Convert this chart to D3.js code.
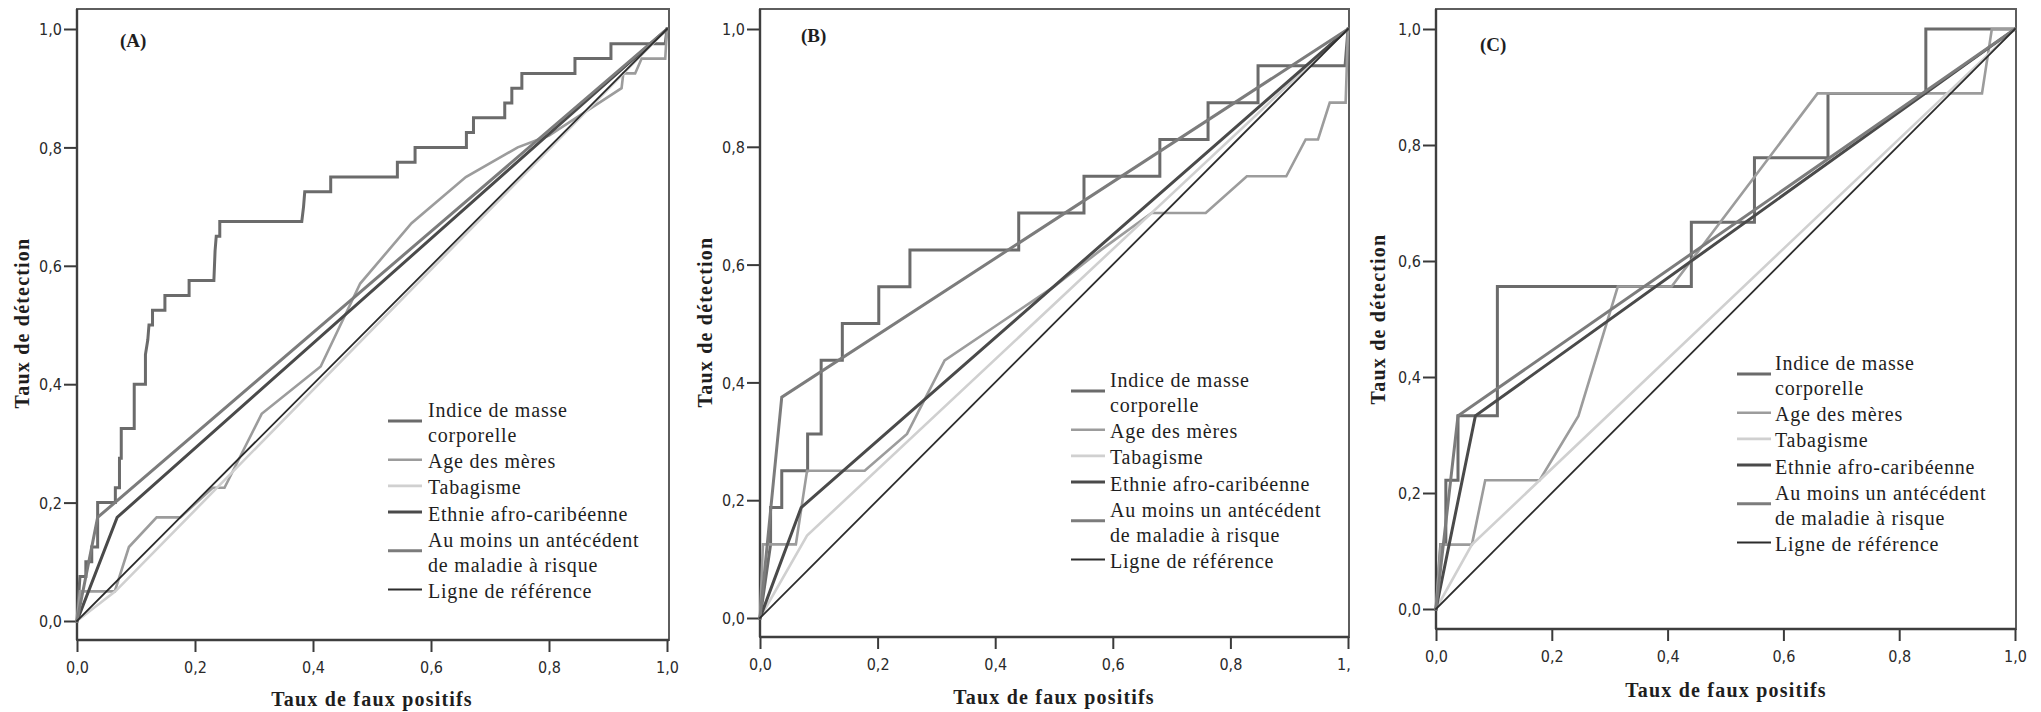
<!DOCTYPE html>
<html><head><meta charset="utf-8">
<script src="https://cdn.jsdelivr.net/npm/d3@7"></script>
<style>
html,body{margin:0;padding:0;background:#fff;}
svg{display:block;}
.tick text{font-family:"DejaVu Sans Condensed","DejaVu Sans",sans-serif;font-stretch:condensed;font-size:16px;fill:#2a2a2a;}
.leg{font-family:"Liberation Serif","Times New Roman",serif;font-size:20px;letter-spacing:0.8px;fill:#1e1e1e;}
.ttl{font-family:"Liberation Serif","Times New Roman",serif;font-weight:bold;font-size:20px;letter-spacing:1.2px;fill:#1e1e1e;}
.plab{font-family:"Liberation Serif","Times New Roman",serif;font-weight:bold;font-size:19px;fill:#1e1e1e;}
</style></head>
<body>
<svg id="chart" width="2041" height="712"></svg>
<script>
// ---------- DATA ----------
const panelLabels = ["(A)", "(B)", "(C)"];
const seriesNames = ["Indice de masse corporelle", "Age des mères", "Tabagisme",
  "Ethnie afro-caribéenne", "Au moins un antécédent de maladie à risque", "Ligne de référence"];
const legendLines = [["Indice de masse", "corporelle"], ["Age des mères"], ["Tabagisme"],
  ["Ethnie afro-caribéenne"], ["Au moins un antécédent", "de maladie à risque"], ["Ligne de référence"]];
const tickValues = [0, 0.2, 0.4, 0.6, 0.8, 1.0];
const tickLabels = ["0,0", "0,2", "0,4", "0,6", "0,8", "1,0"];
const xTitle = "Taux de faux positifs";
const yTitle = "Taux de détection";

// Panel A (false positive rate, detection rate)
const imcA = [[0,0],[0.005,0.075],[0.015,0.075],[0.015,0.1],[0.025,0.1],[0.025,0.125],[0.035,0.125],[0.035,0.2],
  [0.065,0.2],[0.065,0.225],[0.072,0.225],[0.072,0.275],[0.075,0.275],[0.075,0.325],[0.097,0.325],[0.097,0.4],
  [0.116,0.4],[0.116,0.45],[0.12,0.475],[0.122,0.5],[0.128,0.5],[0.128,0.525],[0.149,0.525],[0.149,0.55],
  [0.19,0.55],[0.19,0.575],[0.232,0.575],[0.234,0.625],[0.236,0.65],[0.242,0.65],[0.242,0.675],[0.381,0.675],
  [0.384,0.7],[0.386,0.725],[0.43,0.725],[0.43,0.75],[0.543,0.75],[0.543,0.775],[0.573,0.775],[0.573,0.8],
  [0.66,0.8],[0.66,0.825],[0.672,0.825],[0.672,0.85],[0.725,0.85],[0.725,0.875],[0.737,0.875],[0.737,0.9],
  [0.754,0.9],[0.754,0.925],[0.844,0.925],[0.844,0.95],[0.905,0.95],[0.905,0.975],[0.997,0.975],[1,1]];
const ageA = [[0,0],[0.005,0.05],[0.064,0.05],[0.088,0.125],[0.135,0.175],[0.175,0.175],[0.23,0.225],[0.25,0.225],
  [0.313,0.35],[0.413,0.43],[0.48,0.57],[0.567,0.672],[0.659,0.75],[0.747,0.8],[0.8,0.82],[0.923,0.9],
  [0.926,0.925],[0.946,0.925],[0.957,0.95],[0.997,0.95],[1,1]];
const tabA = [[0,0],[0.065,0.05],[1,1]];
const ethA = [[0,0],[0.068,0.175],[1,1]];
const antA = [[0,0],[0.035,0.175],[1,1]];

// Panel B
const imcB = [[0,0],[0.018,0.125],[0.018,0.1875],[0.037,0.1875],[0.037,0.25],[0.081,0.25],[0.081,0.3125],
  [0.104,0.3125],[0.104,0.4375],[0.14,0.4375],[0.14,0.5],[0.202,0.5],[0.202,0.5625],[0.255,0.5625],[0.255,0.625],
  [0.44,0.625],[0.44,0.6875],[0.551,0.6875],[0.551,0.75],[0.68,0.75],[0.68,0.8125],[0.762,0.8125],[0.762,0.875],
  [0.847,0.875],[0.847,0.9375],[0.995,0.9375],[1,1]];
const ageB = [[0,0],[0.005,0.125],[0.061,0.125],[0.08,0.25],[0.178,0.25],[0.25,0.3125],[0.314,0.4375],[0.407,0.5],
  [0.5,0.5625],[0.58,0.625],[0.666,0.6875],[0.758,0.6875],[0.828,0.75],[0.895,0.75],[0.928,0.8125],[0.949,0.8125],
  [0.969,0.875],[0.996,0.875],[1,1]];
const tabB = [[0,0],[0.08,0.14],[1,1]];
const ethB = [[0,0],[0.07,0.1875],[1,1]];
const antB = [[0,0],[0.037,0.375],[1,1]];

// Panel C
const imcC = [[0,0],[0.008,0.111],[0.017,0.111],[0.017,0.222],[0.038,0.222],[0.038,0.333],[0.106,0.333],
  [0.106,0.556],[0.441,0.556],[0.441,0.667],[0.55,0.667],[0.55,0.778],[0.677,0.778],[0.677,0.889],[0.846,0.889],
  [0.846,1],[1,1]];
const ageC = [[0,0],[0.008,0.111],[0.062,0.111],[0.085,0.222],[0.179,0.222],[0.246,0.333],[0.314,0.556],
  [0.407,0.556],[0.659,0.889],[0.943,0.889],[0.96,1],[1,1]];
const tabC = [[0,0],[0.062,0.111],[1,1]];
const ethC = [[0,0],[0.068,0.333],[1,1]];
const antC = [[0,0],[0.038,0.333],[1,1]];

const refLine = [[0,0],[1,1]];

const panelSeries = [
  [imcA, ageA, tabA, ethA, antA, refLine],
  [imcB, ageB, tabB, ethB, antB, refLine],
  [imcC, ageC, tabC, ethC, antC, refLine]
];

// ---------- STYLE / LAYOUT ----------
const seriesColors = ["#6b6b6b", "#9c9c9c", "#d0d0d0", "#4a4a4a", "#7c7c7c", "#2c2c2c"];
const seriesWidths = [3, 2.6, 2.6, 3, 3, 1.8];
const layout = [
  {x0:77, x1:667, y0:621, y1:29, bl:77, br:669, bt:9, bb:640, lab:[120,47], xt:[372,706], yt:[22,323], leg:[388,428,417], clip:null},
  {x0:760, x1:1348, y0:618, y1:29, bl:760, br:1349, bt:9, bb:637, lab:[801,42], xt:[1054,704], yt:[705,322], leg:[1071,1110,387], clip:1351},
  {x0:1436, x1:2015, y0:609, y1:29, bl:1436, br:2016, bt:9, bb:629, lab:[1480,51], xt:[1726,697], yt:[1378,319], leg:[1737,1775,370], clip:null}
];

const svg = d3.select("#chart");
const fmt = d => tickLabels[tickValues.findIndex(v => Math.abs(v - d) < 1e-9)];

layout.forEach((L, pi) => {
  const g = svg.append("g");
  if (L.clip) {
    svg.append("clipPath").attr("id", "clip" + pi).append("rect")
      .attr("x", 0).attr("y", 0).attr("width", L.clip).attr("height", 712);
    g.attr("clip-path", "url(#clip" + pi + ")");
  }
  const x = d3.scaleLinear().domain([0, 1]).range([L.x0, L.x1]);
  const y = d3.scaleLinear().domain([0, 1]).range([L.y0, L.y1]);

  // frame
  g.append("rect").attr("x", L.bl).attr("y", L.bt).attr("width", L.br - L.bl).attr("height", L.bb - L.bt)
    .attr("fill", "none").attr("stroke", "#5e5e5e").attr("stroke-width", 2);

  // axes
  const ya = d3.axisLeft(y).tickValues(tickValues).tickFormat(fmt).tickSize(13).tickPadding(2);
  const xa = d3.axisBottom(x).tickValues(tickValues).tickFormat(fmt).tickSize(12).tickPadding(6);
  const gy = g.append("g").attr("transform", `translate(${L.bl},0)`).call(ya);
  const gx = g.append("g").attr("transform", `translate(0,${L.bb})`).call(xa);
  [gy, gx].forEach(a => {
    a.select(".domain").remove();
    a.selectAll(".tick line").attr("stroke", "#3a3a3a").attr("stroke-width", 2);
  });
  gy.selectAll(".tick text").attr("dy", "0.35em");
  gx.selectAll(".tick text").attr("dy", "0.95em");
  g.append("line").attr("x1", L.bl).attr("x2", L.bl).attr("y1", L.bt).attr("y2", L.bb)
    .attr("stroke", "#3e3e3e").attr("stroke-width", 2.4);
  g.append("line").attr("x1", L.bl).attr("x2", L.br).attr("y1", L.bb).attr("y2", L.bb)
    .attr("stroke", "#3e3e3e").attr("stroke-width", 2.4);

  // curves
  const line = d3.line().x(d => x(d[0])).y(d => y(d[1]));
  panelSeries[pi].forEach((data, si) => {
    g.append("path").datum(data).attr("d", line).attr("fill", "none")
      .attr("stroke", seriesColors[si]).attr("stroke-width", seriesWidths[si])
      .attr("stroke-linejoin", "miter").attr("stroke-linecap", "square");
  });

  // panel label
  g.append("text").attr("class", "plab").attr("x", L.lab[0]).attr("y", L.lab[1]).text(panelLabels[pi]);

  // titles
  g.append("text").attr("class", "ttl").attr("x", L.xt[0]).attr("y", L.xt[1])
    .attr("text-anchor", "middle").text(xTitle);
  g.append("text").attr("class", "ttl").attr("text-anchor", "middle").attr("dominant-baseline", "central")
    .attr("transform", `translate(${L.yt[0]},${L.yt[1]}) rotate(-90)`).text(yTitle);

  // legend
  let base = L.leg[2];
  legendLines.forEach((lines, si) => {
    const sy = lines.length > 1 ? base + 4 : base - 8.5;
    g.append("line").attr("x1", L.leg[0]).attr("x2", L.leg[0] + 34).attr("y1", sy).attr("y2", sy)
      .attr("stroke", seriesColors[si]).attr("stroke-width", seriesWidths[si]);
    const t = g.append("text").attr("class", "leg").attr("x", L.leg[1]).attr("y", base);
    lines.forEach((s, k) => {
      t.append("tspan").attr("x", L.leg[1]).attr("y", base + k * 25).text(s);
    });
    base += (lines.length - 1) * 25 + 26.2;
  });
});
</script>
</body></html>
